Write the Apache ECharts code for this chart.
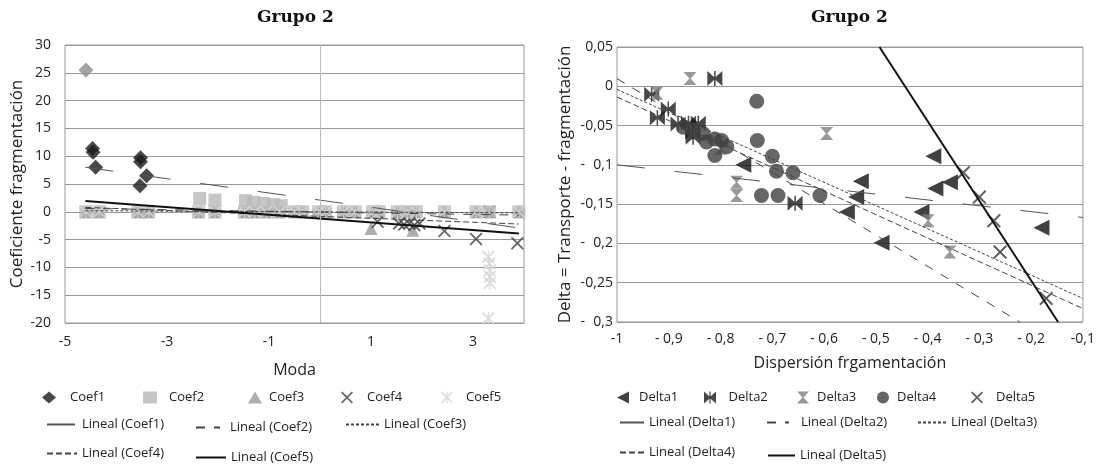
<!DOCTYPE html>
<html>
<head>
<meta charset="utf-8">
<script src="https://cdn.jsdelivr.net/npm/echarts@6/dist/echarts.min.js"></script>
<style>
html, body { margin: 0; padding: 0; background: #fff; }
#chart { width: 1098px; height: 466px; }
</style>
</head>
<body>
<div id="chart"></div>
<script>
// ---- Grupo 2 (izquierda): Coeficiente fragmentación vs Moda ----
const coef1 = [[-4.46, 11.4], [-4.45, 10.7], [-4.4, 8.0], [-3.52, 9.7], [-3.52, 9.0], [-3.4, 6.5], [-3.53, 4.7]]
const coef1Outlier = [[-4.59, 25.5]]
// x positions of the points sitting on zero
const zeroX = [-4.59, -4.33, -3.57, -3.36, -2.38, -2.06, -1.48, -1.28, -1.05, -0.79, -0.5, -0.34,
  -0.03, 0.11, 0.46, 0.69, 1.03, 1.16, 1.52, 1.71, 1.89, 2.44, 3.06, 3.32, 3.9]
const coef2Up = [[-2.36, 2.4], [-2.06, 2.1], [-1.46, 2.0], [-1.3, 1.7], [-1.1, 1.5], [-0.92, 1.3], [-0.76, 1.1]]
const coef3Down = [[1.0, -3.0], [1.82, -3.3]]
const coef4 = [[1.13, -1.8], [1.55, -2.1], [1.65, -2.3], [1.75, -2.1], [1.85, -2.4], [1.95, -2.1],
  [2.44, -3.45], [3.06, -4.9], [3.87, -5.66], [3.32, 0]]
const coef5Down = [[3.3, -8.1], [3.32, -9.3], [3.33, -10.5], [3.33, -11.7], [3.33, -12.8], [3.3, -19.2]]
const trendCoef1 = [[-4.6, 8.0], [3.9, -2.9]]
const trendCoef2 = [[-4.6, 0.6], [3.9, -0.6]]
const trendCoef3 = [[-4.6, 0.2], [3.9, -0.2]]
const trendCoef4 = [[-4.6, 0.8], [3.9, -2.2]]
const trendCoef5 = [[-4.6, 1.94], [3.9, -3.9]]

// ---- Grupo 2 (derecha): Delta vs Dispersión ----
const delta1 = [[-0.756, -0.1], [-0.389, -0.089], [-0.529, -0.121], [-0.538, -0.141], [-0.385, -0.13],
  [-0.357, -0.122], [-0.556, -0.16], [-0.412, -0.16], [-0.489, -0.199], [-0.18, -0.18]]
const delta2 = [[-0.933, -0.01], [-0.922, -0.04], [-0.901, -0.029], [-0.811, 0.01], [-0.882, -0.048],
  [-0.862, -0.047], [-0.843, -0.047], [-0.854, -0.058], [-0.853, -0.065], [-0.656, -0.149]]
const delta3 = [[-0.859, 0.01], [-0.923, -0.009], [-0.8, -0.079], [-0.769, -0.122], [-0.769, -0.139],
  [-0.595, -0.06], [-0.399, -0.171], [-0.357, -0.211]]
const delta4 = [[-0.73, -0.019], [-0.729, -0.069], [-0.7, -0.089], [-0.692, -0.108], [-0.66, -0.11],
  [-0.721, -0.139], [-0.689, -0.139], [-0.608, -0.139], [-0.872, -0.052], [-0.853, -0.056],
  [-0.834, -0.06], [-0.827, -0.071], [-0.811, -0.067], [-0.798, -0.069], [-0.788, -0.077], [-0.811, -0.088]]
const delta5 = [[-0.331, -0.11], [-0.3, -0.141], [-0.272, -0.171], [-0.26, -0.211], [-0.171, -0.27]]
const trendDelta1 = [[-1, -0.1], [-0.1, -0.167]]
const trendDelta2 = [[-1, 0.0098], [-0.222, -0.3]]
const trendDelta3 = [[-1, -0.004], [-0.1, -0.27]]
const trendDelta4 = [[-1, -0.0136], [-0.1, -0.283]]
const trendDelta5 = [[-0.493, 0.05], [-0.148, -0.3]]
// tick labels of the right chart, bottom to top (accounting style: sign in its own column)
const deltaYLabels = ['0,3', '0,25', '0,2', '0,15', '0,1', '0,05', '0', '0,05']
const deltaYSigns = ['-', '-', '-', '-', '-', '-', '', '']
const dispXLabels = ['-1', '- 0,9', '- 0,8', '- 0,7', '- 0,6', '- 0,5', '- 0,4', '- 0,3', '- 0,2', '-0,1']

const FONT = 'Open Sans'
const X_PATH = 'path://M0,2 L2,0 L10,8 L18,0 L20,2 L12,10 L20,18 L18,20 L10,12 L2,20 L0,18 L8,10 Z'
const STAR_PATH = 'path://M0,2 L2,0 L10,8 L18,0 L20,2 L12,10 L20,18 L18,20 L10,12 L2,20 L0,18 L8,10 Z M9,0 L11,0 L11,20 L9,20 Z'
const LEFT_TRI = 'path://M0,10 L20,0 L20,20 Z'
const BOWTIE = 'path://M0,0 L9,8 L9,0 L11,0 L11,8 L20,0 L20,20 L11,12 L11,20 L9,20 L9,12 L0,20 Z'
const HOURGLASS = 'path://M0,0 L20,0 L11,10 L20,20 L0,20 L9,10 Z'

function zeros(xs) { return xs.map(x => [x, 0]) }

function scatter(name, data, idx, symbol, size, color) {
  return { name, type: 'scatter', xAxisIndex: idx, yAxisIndex: idx, data, symbol, symbolSize: size,
    itemStyle: { color }, silent: true }
}
function trend(name, data, idx, type, width, color) {
  return { name, type: 'line', xAxisIndex: idx, yAxisIndex: idx, data, symbol: 'none', silent: true,
    itemStyle: { color }, lineStyle: { type, width, color }, z: 3 }
}
// one legend per item so each sits where the original has it
function lg(name, x, y, w, gap, isLine) {
  const l = { data: [name], left: x, top: y - 6, itemWidth: w, itemHeight: 12, itemGap: 0, padding: 0,
    selectedMode: false, textStyle: { fontFamily: FONT, fontSize: 13, color: '#222', padding: [0, 0, 0, gap] } }
  if (isLine) l.itemStyle = { opacity: 0 }
  return l
}

const axisLabelStyle = { fontFamily: FONT, fontSize: 14, color: '#222' }
const gridLine = { show: true, lineStyle: { color: '#999', width: 1 } }

const chart = echarts.init(document.getElementById('chart'))
chart.setOption({
  animation: false,
  backgroundColor: '#fff',
  title: [
    { text: 'Grupo 2', left: 257, top: 9, padding: 0, textStyle: { fontFamily: 'DejaVu Serif', fontSize: 17, fontWeight: 'bold', color: '#111' } },
    { text: 'Grupo 2', left: 811, top: 9, padding: 0, textStyle: { fontFamily: 'DejaVu Serif', fontSize: 17, fontWeight: 'bold', color: '#111' } }
  ],
  grid: [
    { left: 65, top: 45, width: 459, height: 278, show: true, borderColor: '#999', borderWidth: 1 },
    { left: 617, top: 47, width: 466, height: 275, show: true, borderColor: '#999', borderWidth: 1 }
  ],
  xAxis: [
    {
      type: 'value', gridIndex: 0, min: -5, max: 4, interval: 1,
      name: 'Moda', nameLocation: 'middle', nameGap: 39,
      nameTextStyle: { fontFamily: FONT, fontSize: 16, color: '#222' },
      axisLine: { show: false }, axisTick: { show: false }, splitLine: { show: false },
      axisLabel: Object.assign({ margin: 12, formatter: v => (Math.abs(v) % 2 === 1 ? String(v) : '') }, axisLabelStyle)
    },
    {
      type: 'value', gridIndex: 1, min: -1, max: -0.1, interval: 0.1,
      name: 'Dispersión frgamentación', nameLocation: 'middle', nameGap: 33,
      nameTextStyle: { fontFamily: FONT, fontSize: 16, color: '#222' },
      axisLine: { show: false }, axisTick: { show: false }, splitLine: { show: false },
      axisLabel: Object.assign({ margin: 10, showMaxLabel: true, formatter: (v, i) => dispXLabels[i] }, axisLabelStyle)
    }
  ],
  yAxis: [
    {
      type: 'value', gridIndex: 0, min: -20, max: 30, interval: 5,
      name: 'Coeficiente fragmentación', nameLocation: 'middle', nameGap: 39,
      nameTextStyle: { fontFamily: FONT, fontSize: 17, color: '#222' },
      axisLine: { show: false }, axisTick: { show: false }, splitLine: gridLine,
      axisLabel: Object.assign({ margin: 14 }, axisLabelStyle)
    },
    {
      type: 'value', gridIndex: 1, min: -0.3, max: 0.05, interval: 0.05,
      name: 'Delta = Transporte - fragmentación', nameLocation: 'middle', nameGap: 43,
      nameTextStyle: { fontFamily: FONT, fontSize: 17, color: '#222' },
      axisLine: { show: false }, axisTick: { show: false }, splitLine: gridLine,
      axisLabel: Object.assign({ margin: 4, formatter: (v, i) => deltaYLabels[i] }, axisLabelStyle)
    },
    {
      // sign column of the accounting-style labels
      type: 'value', gridIndex: 1, min: -0.3, max: 0.05, interval: 0.05, position: 'left', offset: 32,
      axisLine: { show: false }, axisTick: { show: false }, splitLine: { show: false },
      axisLabel: Object.assign({ margin: 0, formatter: (v, i) => deltaYSigns[i] }, axisLabelStyle)
    }
  ],
  legend: [
    lg('Coef1', 42, 397, 14, 9), lg('Coef2', 143, 397, 14, 7), lg('Coef3', 248, 397, 14, 2),
    lg('Coef4', 341, 397, 14, 8), lg('Coef5', 441, 397, 14, 7),
    lg('Lineal (Coef1)', 46, 424, 30, 0, true), lg('Lineal (Coef2)', 195, 427, 24, 5, true), lg('Lineal (Coef3)', 345, 424, 33, 0, true),
    lg('Lineal (Coef4)', 46, 453, 30, 0, true), lg('Lineal (Coef5)', 195, 457, 30, 0, true),
    lg('Delta1', 617, 397, 16, 3), lg('Delta2', 704, 397, 15, 6), lg('Delta3', 797, 397, 14, 2),
    lg('Delta4', 877, 397, 14, 2), lg('Delta5', 971, 397, 14, 7),
    lg('Lineal (Delta1)', 619, 422, 24, 0, true), lg('Lineal (Delta2)', 766, 422, 22, 7, true), lg('Lineal (Delta3)', 917, 422, 28, 0, true),
    lg('Lineal (Delta4)', 619, 452, 24, 0, true), lg('Lineal (Delta5)', 767, 455, 27, 0, true)
  ],
  series: [
    // left chart
    Object.assign(scatter('Coef1', coef1.concat(coef1Outlier.map(p => ({ value: p, itemStyle: { color: '#8c8c8c' } }))), 0, 'diamond', 15, '#1a1a1a'), {
      markLine: { silent: true, symbol: 'none', label: { show: false }, lineStyle: { color: '#bbb', width: 1, type: 'solid' }, data: [{ xAxis: 0 }] }
    }),
    scatter('Coef2', zeros(zeroX).concat(coef2Up), 0, 'rect', 13, '#b8b8b8'),
    scatter('Coef3', zeros(zeroX).concat(coef3Down), 0, 'triangle', 13, '#9a9a9a'),
    scatter('Coef4', coef4, 0, X_PATH, 13, '#404040'),
    scatter('Coef5', zeros(zeroX).concat(coef5Down), 0, STAR_PATH, 13, '#d6d6d6'),
    trend('Lineal (Coef1)', trendCoef1, 0, [28, 30], 1, '#555'),
    trend('Lineal (Coef2)', trendCoef2, 0, [9, 9], 1, '#444'),
    trend('Lineal (Coef3)', trendCoef3, 0, [3, 2], 1, '#444'),
    trend('Lineal (Coef4)', trendCoef4, 0, [6, 3], 1, '#444'),
    trend('Lineal (Coef5)', trendCoef5, 0, 'solid', 2, '#111'),
    // right chart
    scatter('Delta1', delta1, 1, LEFT_TRI, 16, '#111'),
    scatter('Delta2', delta2, 1, BOWTIE, 15, '#1a1a1a'),
    scatter('Delta3', delta3, 1, HOURGLASS, 13, '#808080'),
    scatter('Delta4', delta4, 1, 'circle', 15, '#404040'),
    scatter('Delta5', delta5, 1, X_PATH, 14, '#333'),
    trend('Lineal (Delta1)', trendDelta1, 1, [28, 30], 1, '#555'),
    trend('Lineal (Delta2)', trendDelta2, 1, [9, 9], 1, '#444'),
    trend('Lineal (Delta3)', trendDelta3, 1, [3, 2], 1, '#444'),
    trend('Lineal (Delta4)', trendDelta4, 1, [6, 3], 1, '#444'),
    trend('Lineal (Delta5)', trendDelta5, 1, 'solid', 2, '#111')
  ]
})
</script>
</body>
</html>
